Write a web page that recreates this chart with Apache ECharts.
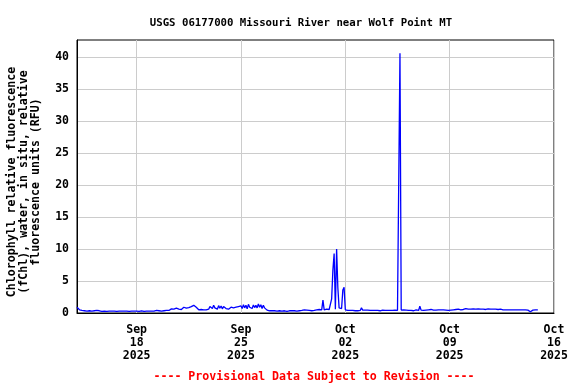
<!DOCTYPE html>
<html><head><meta charset="utf-8">
<script src="https://cdn.jsdelivr.net/npm/echarts@6/dist/echarts.min.js"></script>
<style>html,body{margin:0;padding:0;background:#fff}#c{width:576px;height:384px}</style>
</head><body><div id="c"></div>
<script>
const chartTitle = 'USGS 06177000 Missouri River near Wolf Point MT';
const yAxisTitle = 'Chlorophyll relative fluorescence\n(fChl), water, in situ, relative\nfluorescence units (RFU)';
const footerText = '---- Provisional Data Subject to Revision ----';

// x measured in days relative to 2025-09-18 00:00
const xMin = -4, xMax = 28;
const xTickValues = [0, 7, 14, 21, 28];
const xTickLabels = ['Sep\n18\n2025', 'Sep\n25\n2025', 'Oct\n02\n2025', 'Oct\n09\n2025', 'Oct\n16\n2025'];
const yMin = 0, yMax = 42.66;
const yTickValues = [0, 5, 10, 15, 20, 25, 30, 35, 40];

// readings every 2 hours starting 2025-09-14 00:00 (day -4)
const sampleStartDay = -4;
const sampleStepHours = 2;
const chlValues = [
  0.9, 0.6, 0.5, 0.55, 0.4, 0.5, 0.35, 0.45, 0.3, 0.45, 0.35, 0.4,
  0.3, 0.45, 0.35, 0.3, 0.4, 0.3, 0.35, 0.3, 0.25, 0.3, 0.3, 0.25,
  0.25, 0.3, 0.3, 0.25, 0.3, 0.35, 0.3, 0.3, 0.25, 0.3, 0.3, 0.3,
  0.3, 0.25, 0.3, 0.35, 0.3, 0.3, 0.25, 0.3, 0.3, 0.35, 0.3, 0.25,
  0.3, 0.3, 0.25, 0.3, 0.35, 0.3, 0.25, 0.3, 0.3, 0.25, 0.3, 0.3,
  0.3, 0.35, 0.3, 0.3, 0.4, 0.3, 0.35, 0.45, 0.3, 0.4, 0.35, 0.5,
  0.4, 0.55, 0.4, 0.5, 0.65, 0.45, 0.6, 0.5, 0.75, 0.5, 0.6, 0.8,
  0.55, 0.7, 0.9, 0.6, 0.75, 0.5, 0.85, 0.6, 1.0, 0.7, 1.2, 1.25,
  0.9, 0.6, 0.5, 0.7, 0.55, 0.8, 0.5, 0.65, 0.5, 0.75, 0.6, 1.0,
  1.1, 0.7, 1.2, 0.8, 1.0, 0.6, 1.15, 0.75, 1.1, 0.65, 1.0, 0.8,
  0.7, 0.85, 0.6, 0.75, 0.9, 0.6, 0.8, 0.65, 0.9, 0.7, 1.0, 0.8,
  1.1, 0.7, 1.3, 0.8, 1.2, 0.65, 1.35, 0.9, 1.1, 0.7, 1.25, 0.85,
  1.2, 0.8, 1.4, 0.9, 1.3, 0.7, 1.2, 0.8, 1.0, 0.45, 0.4, 0.35,
  0.35, 0.35, 0.3, 0.35, 0.35, 0.3, 0.35, 0.35, 0.35, 0.3, 0.35, 0.35,
  0.35, 0.25, 0.35, 0.35, 0.3, 0.35, 0.25, 0.35, 0.35, 0.3, 0.35, 0.35,
  0.35, 0.4, 0.35, 0.5, 0.35, 0.45, 0.35, 0.4, 0.5, 0.35, 0.45, 0.4,
  0.45, 0.5, 0.4, 0.55, 0.45, 0.5, 2.0, 0.5, 0.45, 0.6, 0.5, 0.55,
  0.6, 2.2, 6.7, 9.3, 0.6, 10.0, 3.9, 0.8, 0.6, 0.7, 3.6, 4.0,
  0.5, 0.45, 0.4, 0.35, 0.4, 0.35, 0.4, 0.2, 0.35, 0.4, 0.35, 0.4,
  0.4, 0.8, 0.45, 0.4, 0.45, 0.4, 0.45, 0.4, 0.4, 0.45, 0.4, 0.4,
  0.4, 0.45, 0.4, 0.4, 0.35, 0.4, 0.45, 0.4, 0.4, 0.45, 0.4, 0.4,
  0.4, 0.45, 0.4, 0.4, 0.45, 0.4, 0.4, 0.45, 40.6, 0.45, 0.4, 0.5,
  0.4, 0.45, 0.35, 0.4, 0.5, 0.4, 0.45, 0.35, 0.4, 0.5, 0.45, 0.4,
  1.05, 0.45, 0.5, 0.4, 0.55, 0.45, 0.4, 0.5, 0.45, 0.55, 0.4, 0.45,
  0.5, 0.45, 0.55, 0.5, 0.7, 0.5, 0.6, 0.5, 0.65, 0.45, 0.5, 0.4,
  0.55, 0.45, 0.6, 0.5, 0.7, 0.55, 0.85, 0.6, 0.75, 0.5, 0.65, 0.55,
  0.6, 0.7, 0.55, 0.6, 0.65, 0.6, 0.6, 0.65, 0.55, 0.6, 0.6, 0.65,
  0.6, 0.6, 0.55, 0.6, 0.6, 0.55, 0.6, 0.65, 0.6, 0.6, 0.55, 0.6,
  0.6, 0.6, 0.6, 0.55, 0.6, 0.6, 0.55, 0.5, 0.5, 0.5, 0.5, 0.5,
  0.5, 0.5, 0.5, 0.5, 0.5, 0.5, 0.5, 0.5, 0.5, 0.5, 0.5, 0.5,
  0.5, 0.5, 0.5, 0.45, 0.2, 0.2, 0.35, 0.45, 0.5, 0.5, 0.5, 0.5
];

const seriesData = chlValues.map((v, i) => [sampleStartDay + i * sampleStepHours / 24, v]);

const FONT = 'DejaVu Sans Mono';
const chart = echarts.init(document.getElementById('c'), null, {renderer: 'canvas'});
chart.setOption({
  animation: false,
  backgroundColor: '#ffffff',
  title: [
    {text: chartTitle, left: 296, top: 13, textAlign: 'center',
     textStyle: {fontFamily: FONT, fontWeight: 'bold', fontSize: 10.7, color: '#000'}},
    {text: footerText, left: 309, top: 366, textAlign: 'center',
     textStyle: {fontFamily: FONT, fontWeight: 'bold', fontSize: 11.6, color: '#ff0000'}}
  ],
  graphic: [{
    type: 'text', x: 24, y: 182, rotation: Math.PI / 2,
    style: {text: yAxisTitle, fontFamily: FONT, fontWeight: 'bold', fontSize: 11.6,
            lineHeight: 12, fill: '#000', align: 'center', verticalAlign: 'middle'}
  }],
  grid: {left: 77, right: 22, top: 40, bottom: 71, show: true, borderColor: '#000', borderWidth: 1, backgroundColor: 'transparent'},
  xAxis: {
    type: 'value', min: xMin, max: xMax,
    axisLine: {show: true, onZero: false, lineStyle: {color: '#000', width: 1}},
    axisTick: {show: false, customValues: xTickValues},
    splitLine: {show: true, lineStyle: {color: '#cccccc', width: 1}},
    axisLabel: {customValues: xTickValues, margin: 11, lineHeight: 13,
      fontFamily: FONT, fontWeight: 'bold', fontSize: 11.5, color: '#000',
      formatter: v => { const k = xTickValues.indexOf(v); return k >= 0 ? xTickLabels[k] : ''; }}
  },
  yAxis: {
    type: 'value', min: yMin, max: yMax,
    axisLine: {show: true, onZero: false, lineStyle: {color: '#000', width: 1}},
    axisTick: {show: false, customValues: yTickValues},
    splitLine: {show: true, lineStyle: {color: '#cccccc', width: 1}},
    axisLabel: {customValues: yTickValues, margin: 8,
      fontFamily: FONT, fontWeight: 'bold', fontSize: 11.5, color: '#000'}
  },
  series: [{
    type: 'line', data: seriesData, showSymbol: false, symbol: 'none',
    lineStyle: {color: '#0000ff', width: 1.3}, itemStyle: {color: '#0000ff'},
    z: 3
  }]
});
</script></body></html>
